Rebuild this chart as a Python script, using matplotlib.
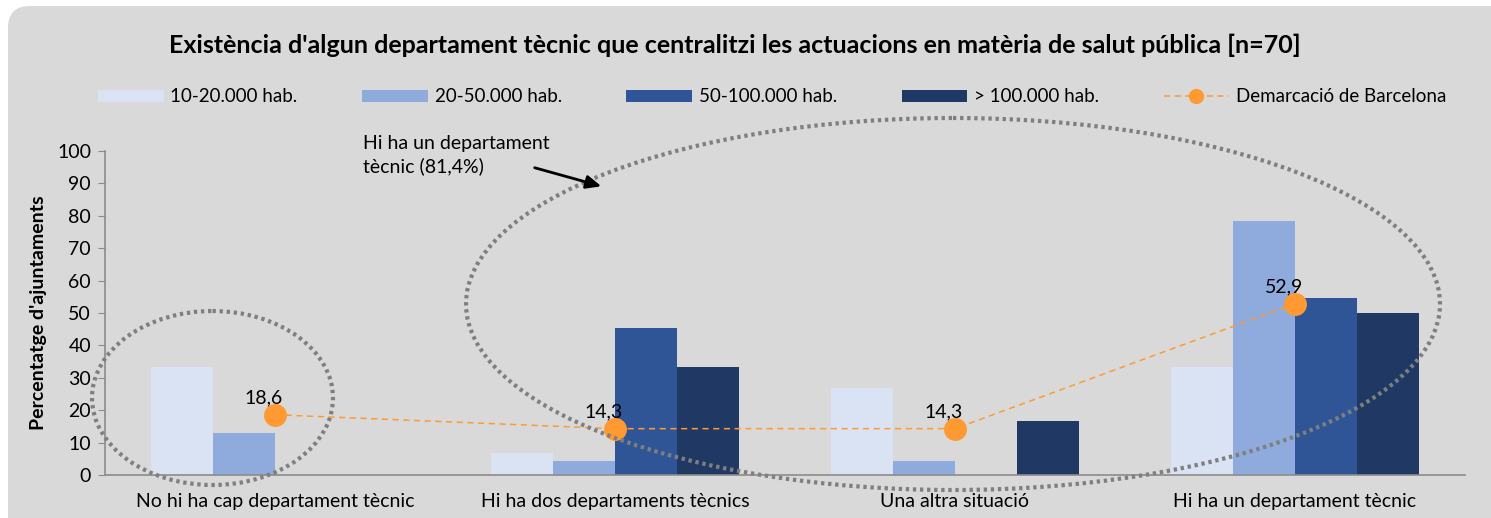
import matplotlib
matplotlib.use("Agg")
import matplotlib.pyplot as plt
import numpy as np
from matplotlib.patches import Ellipse, FancyBboxPatch
from matplotlib.lines import Line2D

plt.rcParams['font.family'] = ['Lato', 'DejaVu Sans']

title = "Existència d'algun departament tècnic que centralitzi les actuacions en matèria de salut pública [n=70]"
categories = ["No hi ha cap departament tècnic", "Hi ha dos departaments tècnics",
              "Una altra situació", "Hi ha un departament tècnic"]
series_names = ["10-20.000 hab.", "20-50.000 hab.", "50-100.000 hab.", "> 100.000 hab."]
s_10_20 = [33.3, 6.7, 26.7, 33.3]
s_20_50 = [13.0, 4.3, 4.3, 78.3]
s_50_100 = [0.0, 45.5, 0.0, 54.5]
s_100 = [0.0, 33.3, 16.7, 50.0]
demarcacio = [18.6, 14.3, 14.3, 52.9]
line_name = "Demarcació de Barcelona"
y_label = "Percentatge d'ajuntaments"
annot_text = "Hi ha un departament\ntècnic (81,4%)"

colors = ["#DAE3F3", "#8FAADC", "#2F5597", "#203864"]
orange = "#FF9A33"

W, H = 1491, 518
fig = plt.figure(figsize=(W / 100, H / 100), dpi=100)
fig.patch.set_facecolor("white")

# background panel (pixel coords)
bg = fig.add_axes([0, 0, 1, 1], zorder=0)
bg.set_xlim(0, W); bg.set_ylim(H, 0); bg.axis("off")
bg.add_patch(FancyBboxPatch((8, 6), W + 40, H + 40, boxstyle="round,pad=0,rounding_size=22",
                            facecolor="#D9D9D9", edgecolor="none"))

ax = fig.add_axes([105 / W, 1 - 475 / H, (1465 - 105) / W, (475 - 151) / H], zorder=2)
ax.patch.set_alpha(0)
x = np.arange(len(categories))
bw = 62 / 340
series = [s_10_20, s_20_50, s_50_100, s_100]
bar_handles = []
for i, (vals, c, name) in enumerate(zip(series, colors, series_names)):
    b = ax.bar(x + (i - 1.5) * bw, vals, width=bw, color=c, label=name, edgecolor="none", zorder=2)
    bar_handles.append(b)

ln, = ax.plot(x, demarcacio, linestyle=(0, (4, 3)), color=orange, lw=1.1, marker="o",
              markersize=15.5, markerfacecolor=orange, markeredgecolor=orange, label=line_name, zorder=4)
for xi, v in zip(x, demarcacio):
    ax.annotate(f"{v:.1f}".replace(".", ","), (xi, v), xytext=(-8, 6), textcoords="offset points",
                ha="center", va="bottom", fontsize=14, color="black", zorder=5)

ax.set_xlim(-0.5, 3.5)
ax.set_ylim(0, 100)
ax.set_yticks(range(0, 101, 10))
ax.set_xticks(x)
ax.set_xticklabels(categories, fontsize=14)
ax.tick_params(axis="x", length=0, pad=13)
ax.tick_params(axis="y", length=5, color="#8C8C8C", labelsize=14, pad=5)
for sp in ["top", "right"]:
    ax.spines[sp].set_visible(False)
for sp in ["left", "bottom"]:
    ax.spines[sp].set_color("#8C8C8C")
    ax.spines[sp].set_linewidth(1.2)
ax.set_ylabel(y_label, fontsize=14, fontweight="bold", labelpad=7)

fig.text(735 / W, 1 - 45 / H, title, ha="center", va="center", fontsize=18, fontweight="bold")

handles = bar_handles + [ln]
labels = series_names + [line_name]
leg = fig.legend(handles, labels, loc="center left", bbox_to_anchor=(98 / W, 1 - 97 / H),
                 ncol=5, frameon=False, fontsize=13.5, handlelength=3.5, handleheight=0.55,
                 handletextpad=0.36, columnspacing=3.45, borderaxespad=0, borderpad=0)
for h in leg.legend_handles:
    if isinstance(h, Line2D):
        h.set_markersize(10)

# overlay for ellipses/arrow
fg = fig.add_axes([0, 0, 1, 1], zorder=3)
fg.set_xlim(0, W); fg.set_ylim(H, 0); fg.axis("off"); fg.patch.set_alpha(0)
for (cx, cy, ew, eh) in [(212.5, 398, 241, 174), (953, 304, 974, 372)]:
    e = Ellipse((cx, cy), ew, eh, facecolor="none", edgecolor="#7F7F7F", lw=3.0,
                linestyle=(0, (0.8, 0.9)))
    e.set_capstyle("butt")
    fg.add_patch(e)
fg.text(363, 155, annot_text, ha="left", va="center", fontsize=14, linespacing=1.3)
fg.annotate("", xy=(604, 187), xytext=(532, 167),
            arrowprops=dict(arrowstyle="-|>,head_length=0.9,head_width=0.4", color="black", lw=2))

fig.savefig("out.png", dpi=100)
